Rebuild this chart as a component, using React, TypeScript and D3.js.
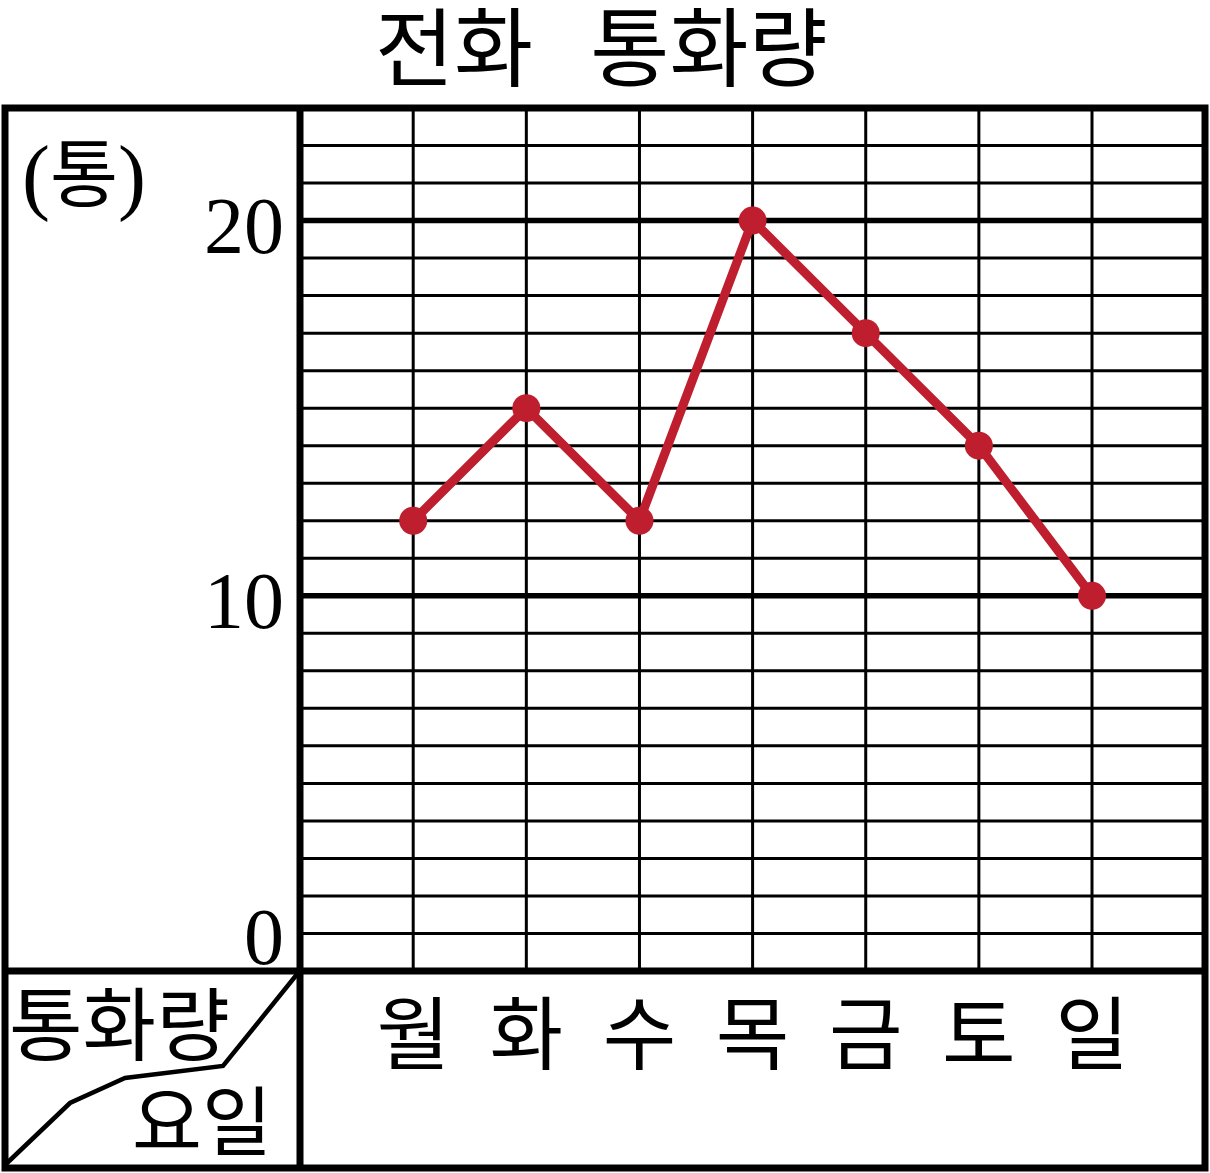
import React from "react";
import * as d3 from "d3";

const days = ["월", "화", "수", "목", "금", "토", "일"];
const calls = [12, 15, 12, 20, 17, 14, 10];
const yTicks = [0, 10, 20];
const yMax = 23;

const W = 1210;
const H = 1173;
const left = 5;
const right = 1205;
const top = 108;
const bottom = 1168;
const divX = 300;
const divY = 971;

export default function App() {
  const x = d3.scalePoint<string>().domain(days).range([413.2, 1092]);
  const y = d3.scaleLinear().domain([0, yMax]).range([divY, top]);
  const line = d3
    .line<number>()
    .x((_, i) => x(days[i]) as number)
    .y((d) => y(d));
  const minor = d3.range(1, yMax).filter((v) => !yTicks.includes(v));
  const diag = d3.line()([
    [6, 1164],
    [70, 1103],
    [125, 1078],
    [223, 1066],
    [298, 973],
  ]);
  const cjk = "'Noto Sans CJK KR', sans-serif";
  const serif = "'Liberation Serif', 'DejaVu Serif', serif";
  const red = "#be1e2d";
  return (
    <svg width={W} height={H} style={{ position: "absolute", left: 0, top: 0, background: "#fff" }}>
      <rect x={0} y={0} width={W} height={H} fill="#fff" />
      <text x={454} y={80} fontFamily={cjk} fontSize={86} textAnchor="middle" fill="#000">전화</text>
      <text x={709} y={80} fontFamily={cjk} fontSize={86} textAnchor="middle" fill="#000">통화량</text>

      {/* grid */}
      {minor.map((v) => (
        <line key={"h" + v} x1={divX} x2={right} y1={y(v)} y2={y(v)} stroke="#000" strokeWidth={3} />
      ))}
      {days.map((d) => (
        <line key={"v" + d} x1={x(d)} x2={x(d)} y1={top} y2={divY} stroke="#000" strokeWidth={3} />
      ))}
      {yTicks.filter((v) => v > 0).map((v) => (
        <line key={"t" + v} x1={divX} x2={right} y1={y(v)} y2={y(v)} stroke="#000" strokeWidth={5.5} />
      ))}

      {/* frame */}
      <rect x={left} y={top} width={right - left} height={bottom - top} fill="none" stroke="#000" strokeWidth={7} />
      <line x1={divX} x2={divX} y1={top} y2={bottom} stroke="#000" strokeWidth={7} />
      <line x1={left} x2={right} y1={divY} y2={divY} stroke="#000" strokeWidth={7} />
      <path d={diag as string} fill="none" stroke="#000" strokeWidth={4.5} strokeLinejoin="miter" />

      {/* y labels */}
      {yTicks.map((v) => (
        <text
          key={"yl" + v}
          x={284}
          y={v === 0 ? y(v) - 7 : y(v) + 32}
          fontFamily={serif}
          fontSize={80}
          textAnchor="end"
          fill="#000"
        >
          {v}
        </text>
      ))}
      <text x={22} y={204} fontFamily={serif} fontSize={84} fill="#000">
        (<tspan fontFamily={cjk} fontSize={74} dy={-3}>통</tspan><tspan dy={3}>)</tspan>
      </text>

      {/* corner labels */}
      <text x={9} y={1054} fontFamily={cjk} fontSize={80} fill="#000">통화량</text>
      <text x={132} y={1150} fontFamily={cjk} fontSize={76} fill="#000">요일</text>

      {/* day labels */}
      {days.map((d) => (
        <text key={"d" + d} x={x(d)} y={1063} fontFamily={cjk} fontSize={80} textAnchor="middle" fill="#000">
          {d}
        </text>
      ))}

      {/* data */}
      <path d={line(calls) as string} fill="none" stroke={red} strokeWidth={9} strokeLinejoin="round" />
      {calls.map((v, i) => (
        <circle key={"c" + i} cx={x(days[i])} cy={y(v)} r={14} fill={red} />
      ))}
    </svg>
  );
}
